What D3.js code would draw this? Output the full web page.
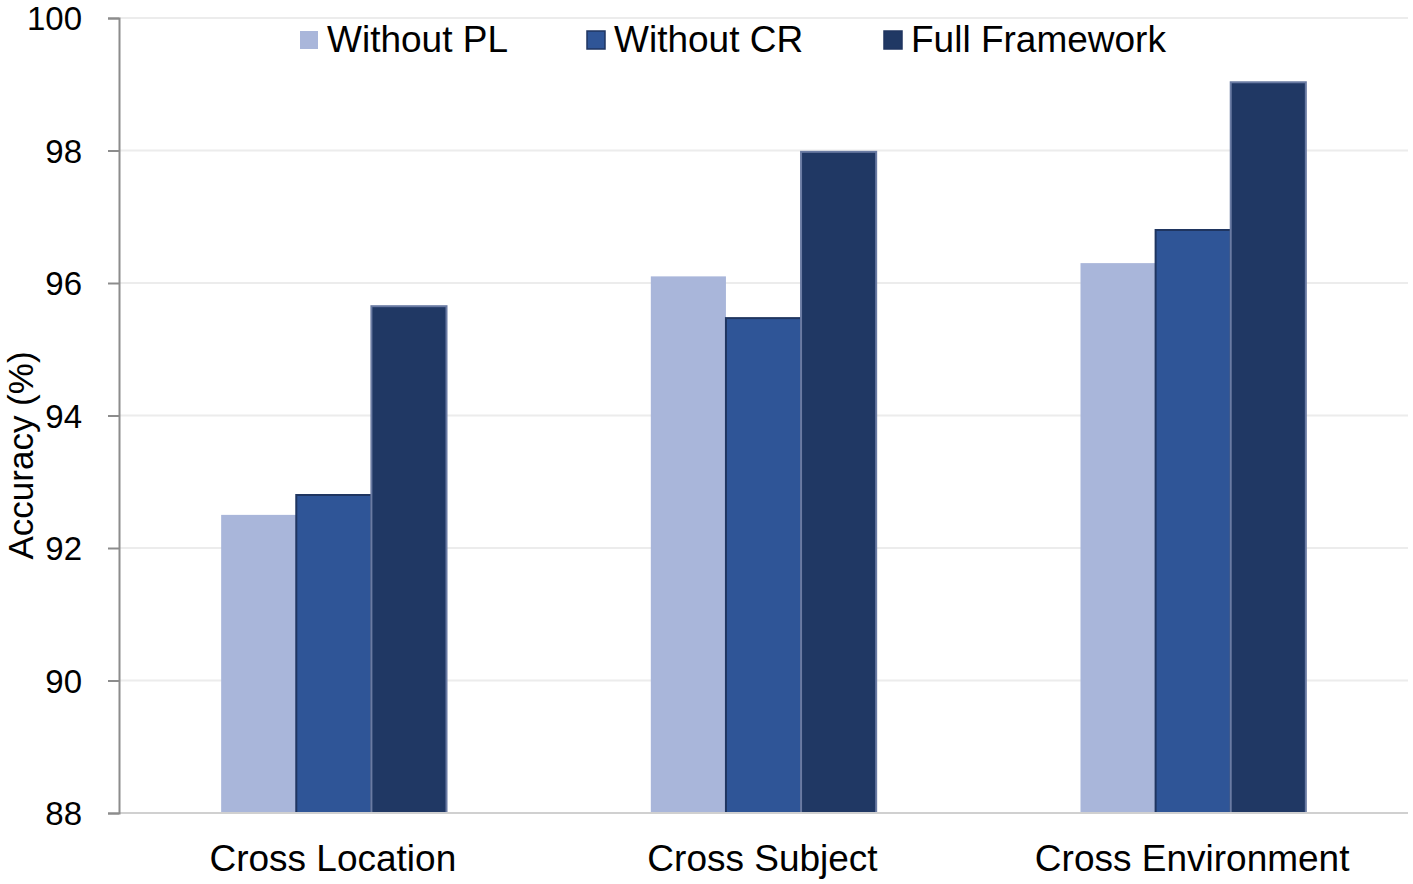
<!DOCTYPE html>
<html>
<head>
<meta charset="utf-8">
<script src="https://cdn.jsdelivr.net/npm/d3@7"></script>
<style>
  html, body { margin: 0; padding: 0; background: #fff; }
  text { font-family: "Liberation Sans", Arial, sans-serif; fill: #000; }
</style>
</head>
<body>
<svg id="chart" width="1413" height="884"></svg>
<script>
const categories = ["Cross Location", "Cross Subject", "Cross Environment"];
const seriesNames = ["Without PL", "Without CR", "Full Framework"];
const withoutPL = [92.5, 96.1, 96.3];
const withoutCR = [92.8, 95.47, 96.8];
const fullFramework = [95.65, 97.98, 99.03];
const yTicks = [88, 90, 92, 94, 96, 98, 100];

const colors = ["#a9b6da", "#2f5597", "#203864"];
const strokes = ["none", "#1f3560", "#6a7ba3"];

const series = [withoutPL, withoutCR, fullFramework];
const rows = categories.map((c, i) => ({
  cat: c,
  vals: series.map((s, j) => ({ key: seriesNames[j], idx: j, v: s[i] }))
}));

const svg = d3.select("#chart");
const margin = { left: 119, right: 5, top: 18, bottom: 71 };
const W = 1413, H = 884;

const x = d3.scaleBand()
  .domain(categories)
  .range([margin.left, W - margin.right])
  .paddingInner(0)
  .paddingOuter(0);

const xInner = d3.scaleBand()
  .domain(seriesNames)
  .range([0, x.bandwidth()])
  .paddingInner(0)
  .paddingOuter(1.36);

const y = d3.scaleLinear().domain([88, 100]).range([H - margin.bottom, margin.top]);

// gridlines
svg.append("g")
  .selectAll("line")
  .data(yTicks.filter(t => t > 88))
  .join("line")
  .attr("x1", margin.left)
  .attr("x2", W - margin.right)
  .attr("y1", d => y(d))
  .attr("y2", d => y(d))
  .attr("stroke", "#ececec")
  .attr("stroke-width", 2);

// bars
const groups = svg.append("g")
  .selectAll("g")
  .data(rows)
  .join("g")
  .attr("transform", d => `translate(${x(d.cat)},0)`);

groups.selectAll("rect")
  .data(d => d.vals)
  .join("rect")
  .attr("x", d => xInner(d.key))
  .attr("width", xInner.bandwidth())
  .attr("y", d => y(d.v))
  .attr("height", d => y(88) - y(d.v))
  .attr("fill", d => colors[d.idx])
  .attr("stroke", d => strokes[d.idx])
  .attr("stroke-width", 2);

// x axis baseline
svg.append("line")
  .attr("x1", margin.left)
  .attr("x2", W - margin.right)
  .attr("y1", y(88))
  .attr("y2", y(88))
  .attr("stroke", "#d0d0d0")
  .attr("stroke-width", 2);

// category labels
svg.append("g")
  .selectAll("text")
  .data(categories)
  .join("text")
  .attr("x", d => x(d) + x.bandwidth() / 2 - 1)
  .attr("y", 871)
  .attr("text-anchor", "middle")
  .style("font-size", "37px")
  .text(d => d);

// y axis
const yAxis = d3.axisLeft(y).tickValues(yTicks).tickSize(11).tickPadding(26);
const ga = svg.append("g")
  .attr("transform", `translate(${margin.left},0)`)
  .call(yAxis);
ga.select(".domain").attr("stroke", "#8c8c8c").attr("stroke-width", 2);
ga.selectAll(".tick line").attr("stroke", "#8c8c8c").attr("stroke-width", 2);
ga.selectAll(".tick text")
  .style("font-size", "33px")
  .style("font-family", "'Liberation Sans', Arial, sans-serif")
  .attr("fill", "#000")
  .attr("dy", "0.36em");

// y title
svg.append("text")
  .attr("transform", `translate(33,${(y(88) + y(100)) / 2 + 40}) rotate(-90)`)
  .attr("text-anchor", "middle")
  .style("font-size", "35px")
  .text("Accuracy (%)");

// legend
const legendX = [300, 587, 884];
const leg = svg.append("g")
  .selectAll("g")
  .data(seriesNames)
  .join("g")
  .attr("transform", (d, i) => `translate(${legendX[i]},31)`);
leg.append("rect")
  .attr("width", 18)
  .attr("height", 18)
  .attr("fill", (d, i) => colors[i])
  .attr("stroke", (d, i) => strokes[i] === "none" ? "none" : "#1f3560")
  .attr("stroke-width", 1.5);
leg.append("text")
  .attr("x", 27)
  .attr("y", 21)
  .style("font-size", "37px")
  .text(d => d);
</script>
</body>
</html>
